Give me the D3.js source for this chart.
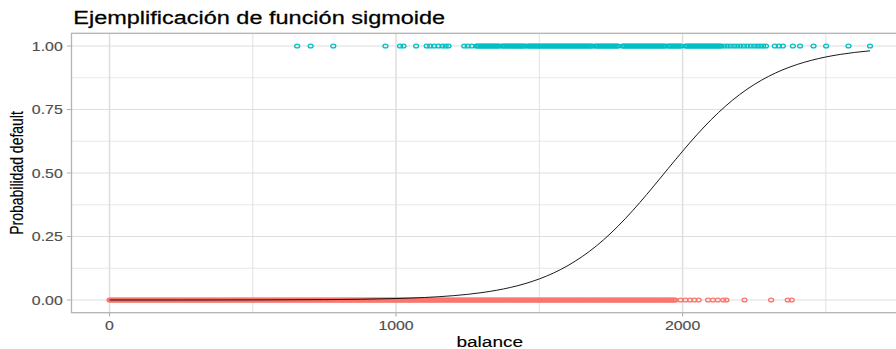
<!DOCTYPE html>
<html>
<head>
<meta charset="utf-8">
<script src="https://cdn.jsdelivr.net/npm/d3@7"></script>
<style>
  body { margin: 0; background: #ffffff; }
  text { font-family: "Liberation Sans", Arial, Helvetica, sans-serif; }
</style>
</head>
<body>
<svg id="chart" width="896" height="349"></svg>
<script>
// ---- labels and ticks ----
const chartTitle = "Ejemplificación de función sigmoide";
const xTitle = "balance";
const yTitle = "Probabilidad default";
const xMajorTicks = [0, 1000, 2000];
const xMinorTicks = [500, 1500, 2500];
const yMajorTicks = [0, 0.25, 0.5, 0.75, 1];
const yMinorTicks = [0.125, 0.375, 0.625, 0.875];

// ---- balances of accounts that defaulted (drawn at probability 1) ----
// the middle run is so dense that the open circles merge into a solid bar
const balanceYes = [
  655, 702, 781, 963, 1014, 1026, 1070, 1107, 1119, 1133, 1148, 1162, 1173, 1183,
  1238, 1250, 1264,
  1280, 1285, 1290, 1295, 1300, 1305, 1310, 1315, 1320, 1325, 1330, 1335, 1340, 1345, 1350, 1355, 1360,
  1370, 1375, 1380, 1385, 1390, 1395, 1400, 1405, 1410, 1415, 1420, 1425, 1430, 1435, 1440, 1445, 1450,
  1460, 1465, 1470, 1475, 1480, 1485, 1490, 1495, 1500, 1505, 1510, 1515, 1520, 1525, 1530, 1535, 1540,
  1545, 1550, 1555, 1560, 1565, 1570, 1575, 1580, 1585, 1590, 1595, 1600, 1605, 1610, 1615, 1620, 1625,
  1630, 1635, 1640, 1645, 1650, 1655, 1660, 1665, 1670, 1675, 1680, 1685,
  1695, 1700, 1705, 1710, 1715, 1720, 1725, 1730, 1735, 1740, 1745, 1750, 1755, 1760, 1765, 1770, 1775,
  1790, 1795, 1800, 1805, 1810, 1815, 1820, 1825, 1830, 1835, 1840, 1845, 1850, 1855, 1860, 1865, 1870,
  1875, 1880, 1885, 1890, 1895, 1900, 1905, 1910, 1915, 1920, 1925, 1930, 1935, 1940,
  1950, 1955, 1960, 1965, 1970, 1975, 1980, 1985, 1990, 1995,
  2010, 2015, 2020, 2025, 2030, 2035, 2040, 2045, 2050, 2055, 2060, 2065, 2070, 2075, 2080, 2085, 2090,
  2095, 2100, 2105, 2110, 2115, 2120, 2125, 2130, 2135,
  2146, 2157, 2168, 2180, 2191, 2202, 2214, 2226, 2238, 2250, 2261, 2271, 2281, 2291,
  2322, 2336, 2350, 2385, 2410, 2457, 2501, 2579, 2654
];

// ---- balances of accounts that did not default (drawn at probability 0) ----
const balanceNo = [
  0, 5, 10, 15, 20, 25, 30, 35, 40, 45, 50, 55, 60, 65, 70, 75, 80, 85, 90, 95,
  100, 105, 110, 115, 120, 125, 130, 135, 140, 145, 150, 155, 160, 165, 170, 175, 180, 185, 190, 195,
  200, 205, 210, 215, 220, 225, 230, 235, 240, 245, 250, 255, 260, 265, 270, 275, 280, 285, 290, 295,
  300, 305, 310, 315, 320, 325, 330, 335, 340, 345, 350, 355, 360, 365, 370, 375, 380, 385, 390, 395,
  400, 405, 410, 415, 420, 425, 430, 435, 440, 445, 450, 455, 460, 465, 470, 475, 480, 485, 490, 495,
  500, 505, 510, 515, 520, 525, 530, 535, 540, 545, 550, 555, 560, 565, 570, 575, 580, 585, 590, 595,
  600, 605, 610, 615, 620, 625, 630, 635, 640, 645, 650, 655, 660, 665, 670, 675, 680, 685, 690, 695,
  700, 705, 710, 715, 720, 725, 730, 735, 740, 745, 750, 755, 760, 765, 770, 775, 780, 785, 790, 795,
  800, 805, 810, 815, 820, 825, 830, 835, 840, 845, 850, 855, 860, 865, 870, 875, 880, 885, 890, 895,
  900, 905, 910, 915, 920, 925, 930, 935, 940, 945, 950, 955, 960, 965, 970, 975, 980, 985, 990, 995,
  1000, 1005, 1010, 1015, 1020, 1025, 1030, 1035, 1040, 1045, 1050, 1055, 1060, 1065, 1070, 1075, 1080, 1085, 1090, 1095,
  1100, 1105, 1110, 1115, 1120, 1125, 1130, 1135, 1140, 1145, 1150, 1155, 1160, 1165, 1170, 1175, 1180, 1185, 1190, 1195,
  1200, 1205, 1210, 1215, 1220, 1225, 1230, 1235, 1240, 1245, 1250, 1255, 1260, 1265, 1270, 1275, 1280, 1285, 1290, 1295,
  1300, 1305, 1310, 1315, 1320, 1325, 1330, 1335, 1340, 1345, 1350, 1355, 1360, 1365, 1370, 1375, 1380, 1385, 1390, 1395,
  1400, 1405, 1410, 1415, 1420, 1425, 1430, 1435, 1440, 1445, 1450, 1455, 1460, 1465, 1470, 1475, 1480, 1485, 1490, 1495,
  1500, 1505, 1510, 1515, 1520, 1525, 1530, 1535, 1540, 1545, 1550, 1555, 1560, 1565, 1570, 1575, 1580, 1585, 1590, 1595,
  1600, 1605, 1610, 1615, 1620, 1625, 1630, 1635, 1640, 1645, 1650, 1655, 1660, 1665, 1670, 1675, 1680, 1685, 1690, 1695,
  1700, 1705, 1710, 1715, 1720, 1725, 1730, 1735, 1740, 1745, 1750, 1755, 1760, 1765, 1770, 1775, 1780, 1785, 1790, 1795,
  1800, 1805, 1810, 1815, 1820, 1825, 1830, 1835, 1840, 1845, 1850, 1855, 1860, 1865, 1870, 1875, 1880, 1885, 1890, 1895,
  1900, 1905, 1910, 1915, 1920, 1925, 1930, 1935, 1940, 1945, 1950, 1955, 1960, 1965, 1970, 1975,
  1993, 2010, 2026, 2041, 2056, 2089, 2106, 2123, 2142, 2153, 2216, 2309, 2367, 2381
];

// ---- fitted logistic curve: balance -> probability of default ----
const curveBalance = [0, 250, 500, 750, 1000, 1100, 1200, 1300, 1400, 1450, 1500, 1550, 1600, 1650,
  1700, 1750, 1800, 1850, 1900, 1950, 2000, 2050, 2100, 2150, 2200, 2250, 2300, 2350, 2400, 2450,
  2500, 2550, 2600, 2654];
const curveProb = [0.00002, 0.00009, 0.00037, 0.00146, 0.0058, 0.0099, 0.0171, 0.0292, 0.0496, 0.0643,
  0.0830, 0.1064, 0.1357, 0.1712, 0.2137, 0.2635, 0.3202, 0.3827, 0.4494, 0.5180, 0.5858, 0.6506,
  0.7103, 0.7634, 0.8095, 0.8483, 0.8804, 0.9065, 0.9273, 0.9438, 0.9568, 0.9668, 0.9746, 0.9810];

// ---- drawing ----
const W = 896, H = 349;
const panel = { left: 71.5, right: 908, top: 33.3, bottom: 312.7 };
const textStretch = 1.27;   // glyphs are drawn wide, like the circles

const colYes = "#00BFC4", colNo = "#F8766D";
const gridCol = "#DEDEDE", borderCol = "#B3B3B3", tickTextCol = "#4D4D4D";

const svg = d3.select("#chart");
svg.append("rect").attr("width", W).attr("height", H).attr("fill", "#ffffff");

const xMax = d3.max(balanceYes.concat(balanceNo));
const xPad = 0.05 * xMax;
const x = d3.scaleLinear().domain([0 - xPad, xMax + xPad]).range([panel.left, panel.right]);
const y = d3.scaleLinear().domain([-0.05, 1.05]).range([panel.bottom, panel.top]);

const plot = svg.append("g");

// minor grid
plot.selectAll("line.xminor").data(xMinorTicks).join("line")
  .attr("x1", d => x(d)).attr("x2", d => x(d))
  .attr("y1", panel.top).attr("y2", panel.bottom)
  .attr("stroke", gridCol).attr("stroke-width", 0.9);
plot.selectAll("line.yminor").data(yMinorTicks).join("line")
  .attr("x1", panel.left).attr("x2", panel.right)
  .attr("y1", d => y(d)).attr("y2", d => y(d))
  .attr("stroke", gridCol).attr("stroke-width", 0.7);

// major grid
plot.selectAll("line.xmajor").data(xMajorTicks).join("line")
  .attr("x1", d => x(d)).attr("x2", d => x(d))
  .attr("y1", panel.top).attr("y2", panel.bottom)
  .attr("stroke", gridCol).attr("stroke-width", 1.5);
plot.selectAll("line.ymajor").data(yMajorTicks).join("line")
  .attr("x1", panel.left).attr("x2", panel.right)
  .attr("y1", d => y(d)).attr("y2", d => y(d))
  .attr("stroke", gridCol).attr("stroke-width", 1.1);

// points: open circles, slightly wide
function drawPoints(values, prob, colour) {
  plot.append("g").selectAll("ellipse").data(values).join("ellipse")
    .attr("cx", d => x(d)).attr("cy", y(prob))
    .attr("rx", 2.5).attr("ry", 1.9)
    .attr("fill", "none").attr("stroke", colour).attr("stroke-width", 1.3);
}
drawPoints(balanceNo, 0, colNo);
drawPoints(balanceYes, 1, colYes);

// sigmoid curve
const curveData = curveBalance.map((b, i) => [b, curveProb[i]]);
plot.append("path").datum(curveData)
  .attr("d", d3.line().x(d => x(d[0])).y(d => y(d[1])).curve(d3.curveMonotoneX))
  .attr("fill", "none").attr("stroke", "#000000").attr("stroke-width", 0.9);

// panel border
svg.append("rect")
  .attr("x", panel.left).attr("y", panel.top)
  .attr("width", panel.right - panel.left).attr("height", panel.bottom - panel.top)
  .attr("fill", "none").attr("stroke", borderCol).attr("stroke-width", 1.3);

// axis ticks
svg.selectAll("line.xtick").data(xMajorTicks).join("line")
  .attr("x1", d => x(d)).attr("x2", d => x(d))
  .attr("y1", panel.bottom).attr("y2", panel.bottom + 3.7)
  .attr("stroke", borderCol).attr("stroke-width", 1.2);
svg.selectAll("line.ytick").data(yMajorTicks).join("line")
  .attr("x1", panel.left - 4.7).attr("x2", panel.left)
  .attr("y1", d => y(d)).attr("y2", d => y(d))
  .attr("stroke", borderCol).attr("stroke-width", 1.0);

function wideText(str, px, py, opts) {
  const t = svg.append("text")
    .attr("transform", `translate(${px},${py}) scale(${textStretch},1)` + (opts.rotate ? ` rotate(${opts.rotate})` : ""))
    .attr("font-size", opts.size)
    .attr("fill", opts.fill || "#000000")
    .attr("text-anchor", opts.anchor || "start")
    .text(str);
  if (opts.weight) t.attr("stroke", opts.fill || "#000000").attr("stroke-width", opts.weight);
  return t;
}

// tick labels
const fmtY = d3.format(".2f");
yMajorTicks.forEach(v => wideText(fmtY(v), 62.7, y(v) + 4.5, { size: 12.5, fill: tickTextCol, anchor: "end", weight: 0.15 }));
xMajorTicks.forEach(v => wideText(String(v), x(v), 330, { size: 12.5, fill: tickTextCol, anchor: "middle", weight: 0.15 }));

// titles
wideText(xTitle, (panel.left + panel.right) / 2, 346.5, { size: 15, anchor: "middle", weight: 0.12 });
wideText(yTitle, 23.3, (panel.top + panel.bottom) / 2, { size: 14, anchor: "middle", rotate: -90, weight: 0.12 });
wideText(chartTitle, 73.3, 23.5, { size: 18.5, weight: 0.25 });
</script>
</body>
</html>
